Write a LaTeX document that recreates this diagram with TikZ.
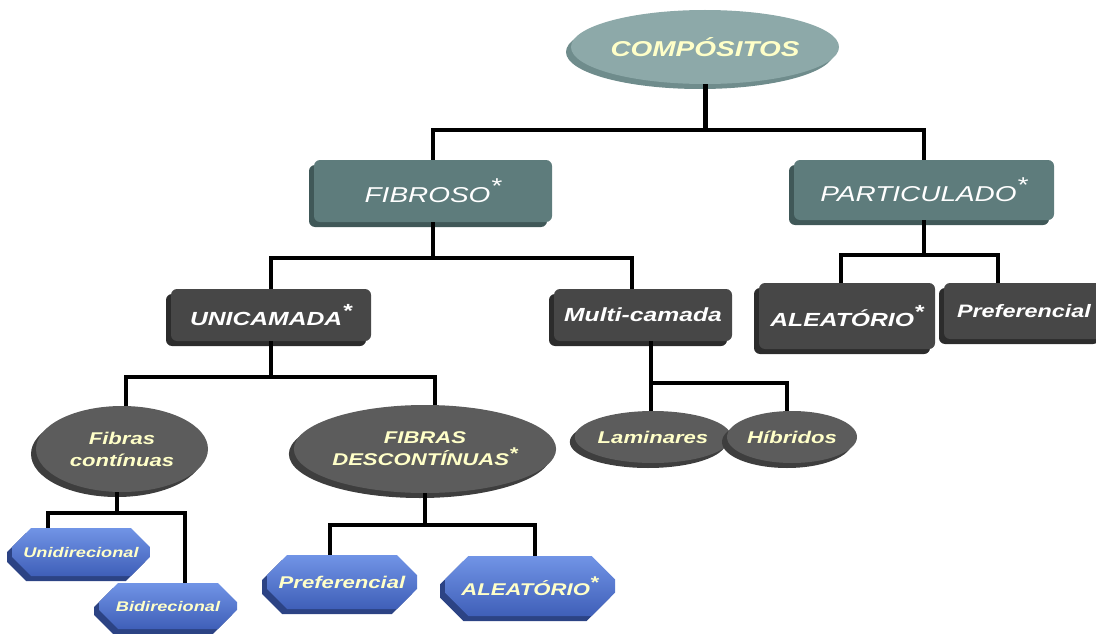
\documentclass[tikz,border=0pt]{standalone}
\usepackage{fontspec}
\setmainfont{Liberation Sans}[FakeStretch=1.3]
\usetikzlibrary{shapes.geometric,shapes.misc,shadows}
\definecolor{amarelo}{HTML}{FFFFC8}
\definecolor{tealtopo}{HTML}{8DA9A9}
\definecolor{tealtopoesc}{HTML}{6F8C8C}
\definecolor{tealcaixa}{HTML}{5E7C7C}
\definecolor{tealcaixaesc}{HTML}{405858}
\definecolor{cinzacaixa}{HTML}{474747}
\definecolor{cinzacaixaesc}{HTML}{2C2C2C}
\definecolor{cinzaoval}{HTML}{5C5C5C}
\definecolor{cinzaovalesc}{HTML}{3E3E3E}
\definecolor{azulclaro}{HTML}{7194E6}
\definecolor{azulescuro}{HTML}{3F5FB8}
\definecolor{azulsombra}{HTML}{2C4384}
\newcommand{\aster}{\raisebox{0.4em}{*}}
\begin{document}
\begin{tikzpicture}[
      x=1pt, y=-1pt,
      linha/.style={line width=3.2pt, black},
      relevo/.style={drop shadow={shadow xshift=-5pt, shadow yshift=-5pt, fill=#1, opacity=1}},
      topo/.style={ellipse, fill=tealtopo, relevo=tealtopoesc, inner sep=0pt, minimum width=268pt, minimum height=74pt,
        text=amarelo, font=\fontsize{21.5}{24}\selectfont\bfseries\itshape},
      nivel/.style={rounded corners=6pt, fill=tealcaixa, relevo=tealcaixaesc, text=white,
        font=\fontsize{21.5}{24}\selectfont\itshape},
      escura/.style={rounded corners=6pt, fill=cinzacaixa, relevo=cinzacaixaesc, text=white,
        font=\fontsize{19}{21}\selectfont\bfseries\itshape},
      oval/.style={ellipse, fill=cinzaoval, relevo=cinzaovalesc, inner sep=0pt, align=center, text=amarelo,
        font=\fontsize{17}{22}\selectfont\bfseries\itshape},
      octo/.style={chamfered rectangle, chamfered rectangle xsep=14pt, chamfered rectangle ysep=14pt,
        top color=azulclaro, bottom color=azulescuro, relevo=azulsombra, inner sep=0pt, text=amarelo,
        font=\fontsize{17}{19}\selectfont\bfseries\itshape}
    ]
      \useasboundingbox (0,0) rectangle (1096,634);
      \clip (0,0) rectangle (1096,634);
      % nos
      \node[topo] (comp) at (705,47) {COMPÓSITOS};
      \node[nivel, minimum width=238pt, minimum height=62pt] (fib) at (433,191) {FIBROSO\aster};
      \node[nivel, minimum width=260pt, minimum height=60pt] (part) at (924,190) {PARTICULADO\aster};
      \node[escura, minimum width=200pt, minimum height=52pt] (uni) at (271,315) {UNICAMADA\aster};
      \node[escura, minimum width=178pt, minimum height=52pt] (multi) at (643,315) {Multi-camada};
      \node[escura, minimum width=176pt, minimum height=66pt] (aleapart) at (847,316) {ALEATÓRIO\aster};
      \node[escura, minimum width=160pt, minimum height=56pt, font=\fontsize{18}{20}\selectfont\bfseries\itshape] (prefpart) at (1024,311) {Preferencial};
      \node[oval, minimum width=172pt, minimum height=86pt] (fcont) at (122,449) {Fibras\\contínuas};
      \node[oval, minimum width=232pt, minimum height=88pt] (fdesc) at (425,449) {FIBRAS\\DESCONTÍNUAS\aster};
      \node[oval, minimum width=154pt, minimum height=52pt] (lam) at (653,437) {Laminares};
      \node[oval, minimum width=130pt, minimum height=52pt] (hib) at (792,437) {Híbridos};
      \node[octo, minimum width=138pt, minimum height=48pt, font=\fontsize{14}{16}\selectfont\bfseries\itshape] (unidir) at (81,552) {Unidirecional};
      \node[octo, minimum width=138pt, minimum height=46pt, font=\fontsize{14}{16}\selectfont\bfseries\itshape] (bidir) at (168,606) {Bidirecional};
      \node[octo, minimum width=150pt, minimum height=54pt] (prefd) at (342,582) {Preferencial};
      \node[octo, minimum width=170pt, minimum height=60pt] (alead) at (530,586) {ALEATÓRIO\aster};
      % ligacoes
      \coordinate (b1) at (705,130);
      \coordinate (b2) at (433,258);
      \coordinate (b3) at (271,377);
      \coordinate (b4) at (651,383);
      \coordinate (b5) at (117,513);
      \coordinate (b6) at (425,525);
      \coordinate (b7) at (924,255);
      \draw[linha, line width=5pt] (comp.south) -- (b1);
      \draw[linha] (fib.north) |- (b1) -| (part.north);
      \draw[linha] (fib.south) -- (b2);
      \draw[linha] (uni.north) |- (b2) -| ([xshift=-11pt]multi.north);
      \draw[linha] (part.south) -- (b7);
      \draw[linha] ([xshift=-6pt]aleapart.north) |- (b7) -| ([xshift=-26pt]prefpart.north);
      \draw[linha] (uni.south) -- (b3);
      \draw[linha] ([xshift=4pt]fcont.north) |- (b3) -| ([xshift=10pt]fdesc.north);
      \draw[linha] ([xshift=8pt]multi.south) -- (b4) -- ([xshift=-2pt]lam.north);
      \draw[linha] (b4) -| ([xshift=-5pt]hib.north);
      \draw[linha] ([xshift=-5pt]fcont.south) -- (b5);
      \draw[linha] ([xshift=-33pt]unidir.north) |- (b5) -| ([xshift=17pt]bidir.north);
      \draw[linha] (fdesc.south) -- (b6);
      \draw[linha] ([xshift=-12pt]prefd.north) |- (b6) -| ([xshift=5pt]alead.north);
    \end{tikzpicture}
\end{document}
